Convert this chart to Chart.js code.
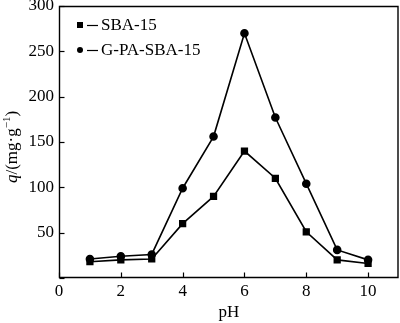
<!DOCTYPE html>
<html lang="zh">
<head>
    <meta charset="utf-8">
    <title>q - pH</title>
    <script src="https://cdn.jsdelivr.net/npm/chart.js"></script>
    <style>
        html, body { margin: 0; padding: 0; background: #fff; }
        #wrap { width: 400px; height: 323px; }
    </style>
</head>
<body>
<div id="wrap"><canvas id="chart-ph" width="400" height="323"></canvas></div>

<script>
    // valeurs lues pour chaque pH
    const PH = [1, 2, 3, 4, 5, 6, 7, 8, 9, 10];
    const SBA15 = [18, 20, 21, 60, 90, 140, 110, 51, 20, 16];
    const GPA_SBA15 = [21, 24, 26, 99, 156, 270, 177, 104, 31, 20];
    const X_TICKS = [0, 2, 4, 6, 8, 10];
    const Y_TICKS = [0, 50, 100, 150, 200, 250, 300];
    const LABELS = ['SBA-15', 'G-PA-SBA-15'];

    const FONT = '"Liberation Serif", "Times New Roman", serif';

    function toPoints(ys) {
        return PH.map((x, i) => ({ x: x, y: ys[i] }));
    }

    // cadre, graduations vers l'intérieur, légende et titre de l'axe y
    const decor = {
        id: 'decor',
        afterDraw(chart) {
            const c = chart.ctx;
            const a = chart.chartArea;
            const sx = chart.scales.x, sy = chart.scales.y;
            c.save();
            c.strokeStyle = '#000';
            c.lineWidth = 1.4;
            const l = a.left + 0.5, r = a.right - 1, t = a.top + 0.5, b = a.bottom - 0.5;
            c.beginPath();
            c.moveTo(l, t);
            c.lineTo(r, t);
            c.lineTo(r, b);
            c.lineTo(l, b);
            c.closePath();
            c.stroke();

            c.lineWidth = 1.2;
            X_TICKS.forEach(v => {
                const px = Math.round(sx.getPixelForValue(v)) + 0.5;
                c.beginPath();
                c.moveTo(px, b);
                c.lineTo(px, b - 5);
                c.stroke();
            });
            Y_TICKS.forEach(v => {
                const py = Math.round(sy.getPixelForValue(v)) + 0.5;
                c.beginPath();
                c.moveTo(l, py);
                c.lineTo(l + 5, py);
                c.stroke();
            });

            // légende
            const rows = [25, 50];
            c.font = '17px ' + FONT;
            c.textBaseline = 'middle';
            c.fillStyle = '#000';
            rows.forEach((y, i) => {
                if (i === 0) {
                    c.fillRect(77, y - 3, 6, 6);
                } else {
                    c.beginPath();
                    c.arc(80, y, 3, 0, Math.PI * 2);
                    c.fill();
                }
                c.beginPath();
                c.moveTo(87, y + 0.5);
                c.lineTo(98, y + 0.5);
                c.stroke();
                c.fillText(LABELS[i], 101, y + 1);
            });

            // titre y : q/(mg·g⁻¹)
            c.translate(13, 147);
            c.rotate(-Math.PI / 2);
            c.textBaseline = 'middle';
            const parts = [
                { t: 'q', f: 'italic 17px ' + FONT, dy: 0 },
                { t: '/(mg\u00b7g', f: '17px ' + FONT, dy: 0 },
                { t: '\u22121', f: '11px ' + FONT, dy: -6 },
                { t: ')', f: '17px ' + FONT, dy: 0 }
            ];
            let w = 0;
            parts.forEach(p => { c.font = p.f; w += c.measureText(p.t).width; });
            let x = -w / 2;
            parts.forEach(p => {
                c.font = p.f;
                c.fillText(p.t, x, p.dy);
                x += c.measureText(p.t).width;
            });
            c.restore();
        }
    };

    const ctx = document.getElementById('chart-ph').getContext('2d');
    const chart = new Chart(ctx, {
        type: 'line',
        data: {
            datasets: [{
                label: LABELS[0],
                data: toPoints(SBA15),
                borderColor: '#000',
                backgroundColor: '#000',
                borderWidth: 1.6,
                pointStyle: 'rect',
                pointRadius: 4,
                tension: 0
            }, {
                label: LABELS[1],
                data: toPoints(GPA_SBA15),
                borderColor: '#000',
                backgroundColor: '#000',
                borderWidth: 1.6,
                pointStyle: 'circle',
                pointRadius: 3.5,
                tension: 0
            }]
        },
        options: {
            responsive: false,
            animation: false,
            events: [],
            layout: {
                autoPadding: false,
                padding: { top: 6, right: 1, left: 0, bottom: 0 }
            },
            plugins: {
                legend: { display: false },
                tooltip: { enabled: false }
            },
            scales: {
                x: {
                    type: 'linear',
                    min: 0,
                    max: 11,
                    afterBuildTicks: s => { s.ticks = X_TICKS.map(v => ({ value: v })); },
                    afterFit: s => { s.height = 45; s.paddingLeft = 0; s.paddingRight = 0; },
                    grid: { display: false, drawTicks: false },
                    border: { display: false },
                    ticks: {
                        color: '#000',
                        padding: 3,
                        maxRotation: 0,
                        font: { family: FONT, size: 17 }
                    },
                    title: {
                        display: true,
                        text: 'pH',
                        color: '#000',
                        padding: { top: 4, bottom: 0 },
                        font: { family: FONT, size: 17 }
                    }
                },
                y: {
                    min: 0,
                    max: 300,
                    afterBuildTicks: s => { s.ticks = Y_TICKS.map(v => ({ value: v })); },
                    afterFit: s => { s.width = 59; s.paddingTop = 0; s.paddingBottom = 0; },
                    grid: { display: false, drawTicks: false },
                    border: { display: false },
                    ticks: {
                        color: '#000',
                        padding: 5,
                        font: { family: FONT, size: 17 },
                        callback: v => (v === 0 ? '' : v)
                    }
                }
            }
        },
        plugins: [decor]
    });
</script>
</body>
</html>
